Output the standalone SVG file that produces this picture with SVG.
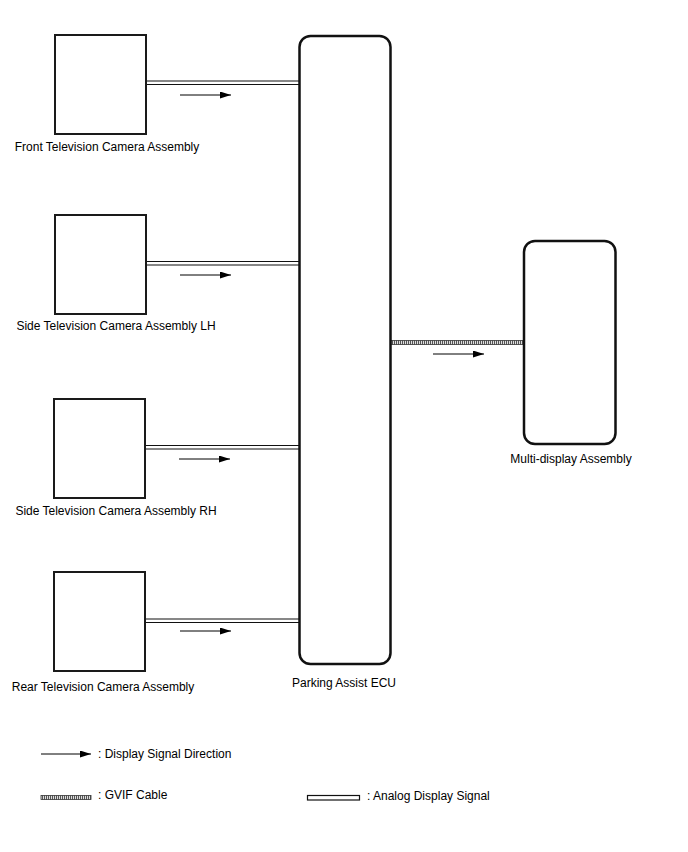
<svg xmlns="http://www.w3.org/2000/svg" width="688" height="852" viewBox="0 0 688 852">
<style>
.box{fill:#fff;stroke:#1a1a1a;stroke-width:2}
.rbox{fill:#fff;stroke:#111;stroke-width:2.5}
.lbl{font-family:"Liberation Sans",Arial,sans-serif;font-size:12px;fill:#000}
.an{stroke:#111;stroke-width:1.2;fill:none}
.arr{stroke:#000;stroke-width:1;fill:none;marker-end:url(#ah)}
.gv{fill:url(#hatch);stroke:#333;stroke-width:0.8}
</style>
<defs>
<marker id="ah" markerWidth="11" markerHeight="7" refX="11" refY="3.5" orient="auto" markerUnits="userSpaceOnUse">
<path d="M0,0 L11,3.5 L0,7 Z" fill="#000"/>
</marker>
<pattern id="hatch" width="2" height="4" patternUnits="userSpaceOnUse">
<rect width="2" height="4" fill="#ddd"/>
<rect width="1" height="4" fill="#555"/>
</pattern>
</defs>

<g id="connectors">
<line class="an" x1="146" y1="81" x2="299" y2="81"/>
<line class="an" x1="146" y1="84.5" x2="299" y2="84.5"/>
<line class="arr" x1="180" y1="95" x2="231" y2="95"/>

<line class="an" x1="146" y1="261.5" x2="299" y2="261.5"/>
<line class="an" x1="146" y1="265" x2="299" y2="265"/>
<line class="arr" x1="180" y1="275" x2="231" y2="275"/>

<line class="an" x1="145" y1="445.5" x2="299" y2="445.5"/>
<line class="an" x1="145" y1="449" x2="299" y2="449"/>
<line class="arr" x1="179" y1="459" x2="230" y2="459"/>

<line class="an" x1="145" y1="619" x2="299" y2="619"/>
<line class="an" x1="145" y1="622.5" x2="299" y2="622.5"/>
<line class="arr" x1="180" y1="631" x2="231" y2="631"/>

<rect class="gv" x="391" y="340.5" width="133" height="4"/>
<line class="arr" x1="433" y1="354" x2="484" y2="354"/>
</g>

<g id="front-camera">
<rect class="box" x="55" y="35" width="91" height="99"/>
<text class="lbl" x="107" y="151" text-anchor="middle">Front Television Camera Assembly</text>
</g>
<g id="side-camera-lh">
<rect class="box" x="55" y="215" width="91" height="99"/>
<text class="lbl" x="116" y="330" text-anchor="middle">Side Television Camera Assembly LH</text>
</g>
<g id="side-camera-rh">
<rect class="box" x="54" y="399" width="91" height="99"/>
<text class="lbl" x="116" y="515" text-anchor="middle">Side Television Camera Assembly RH</text>
</g>
<g id="rear-camera">
<rect class="box" x="54" y="572" width="91" height="99"/>
<text class="lbl" x="103" y="691" text-anchor="middle">Rear Television Camera Assembly</text>
</g>
<g id="parking-assist-ecu">
<rect class="rbox" x="299.5" y="36" width="91" height="628" rx="11" ry="11"/>
<text class="lbl" x="344" y="687" text-anchor="middle">Parking Assist ECU</text>
</g>
<g id="multi-display">
<rect class="rbox" x="524" y="241" width="91.5" height="203" rx="11" ry="11"/>
<text class="lbl" x="571" y="463" text-anchor="middle">Multi-display Assembly</text>
</g>

<g id="legend">
<line class="arr" x1="41" y1="754" x2="91" y2="754"/>
<text class="lbl" x="98" y="758">: Display Signal Direction</text>
<rect class="gv" x="41" y="795.5" width="50" height="4"/>
<text class="lbl" x="98" y="799">: GVIF Cable</text>
<rect x="307.5" y="795.5" width="52" height="4.5" fill="#fff" stroke="#111" stroke-width="1.2"/>
<text class="lbl" x="367" y="800">: Analog Display Signal</text>
</g>
</svg>
